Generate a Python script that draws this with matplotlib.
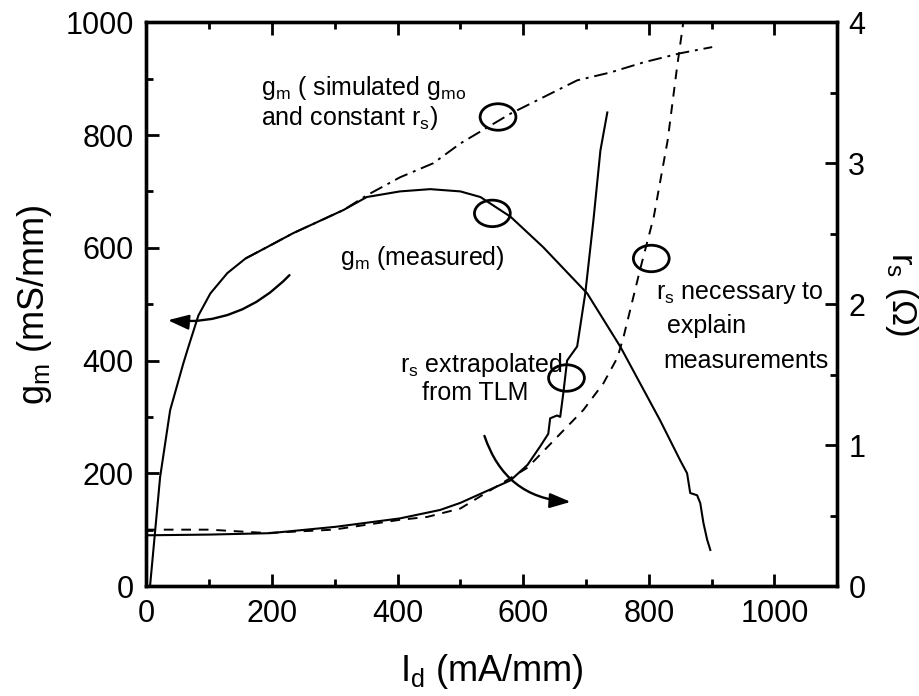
import matplotlib
matplotlib.use("Agg")
import matplotlib.pyplot as plt
from matplotlib.patches import Ellipse, FancyArrowPatch
from matplotlib.ticker import MultipleLocator

plt.rcParams['font.family'] = ['Liberation Sans', 'DejaVu Sans']
plt.rcParams['mathtext.default'] = 'regular'

# measured transconductance vs drain current
gm_meas_id = [6, 22, 38, 59, 67, 83, 102, 129, 158, 192, 234, 314, 351, 404, 452,
              500, 532, 580, 632, 702, 755, 818, 850, 861, 866, 877, 882, 887, 893, 898]
gm_meas = [0, 193, 312, 395, 424, 480, 519, 555, 581, 601, 626, 667, 690, 700, 704,
           700, 690, 655, 601, 519, 424, 294, 223, 200, 165, 161, 147, 112, 82, 64]

# simulated gm with constant rs
gm_sim_id = [158, 192, 234, 314, 351, 404, 457, 500, 580, 686, 739, 792, 850, 901]
gm_sim = [581, 601, 626, 667, 693, 725, 750, 785, 838, 897, 911, 929, 945, 956]

# rs extrapolated from TLM
rs_tlm_id = [0, 100, 197, 301, 404, 468, 500, 580, 607, 627, 640, 643, 654, 659,
             664, 670, 686, 699, 712, 723, 734]
rs_tlm = [0.36, 0.365, 0.375, 0.42, 0.48, 0.54, 0.59, 0.75, 0.86, 0.99, 1.08, 1.19,
          1.21, 1.20, 1.37, 1.60, 1.70, 2.08, 2.60, 3.09, 3.36]

# rs needed to explain the measured gm
rs_need_id = [0, 100, 192, 298, 404, 447, 500, 607, 659, 696, 728, 750, 760, 787,
              808, 830, 845, 855]
rs_need = [0.40, 0.40, 0.376, 0.40, 0.47, 0.49, 0.55, 0.84, 1.08, 1.25, 1.44, 1.62,
           1.77, 2.26, 2.62, 3.16, 3.68, 4.0]

fig = plt.figure(figsize=(9.2, 6.96), dpi=100)
ax = fig.add_axes([0.159, 0.158, 0.751, 0.810])
ax2 = ax.twinx()

ax.plot(gm_meas_id, gm_meas, color='black', lw=1.5)
ax.plot(gm_sim_id, gm_sim, color='black', lw=1.4, linestyle=(0, (7, 3, 1.5, 3)))
ax2.plot(rs_tlm_id, rs_tlm, color='black', lw=1.5)
ax2.plot(rs_need_id, rs_need, color='black', lw=1.4, linestyle=(0, (5, 4)))

ax.set_xlim(0, 1100)
ax.set_ylim(0, 1000)
ax2.set_ylim(0, 4)

ax.xaxis.set_major_locator(MultipleLocator(200))
ax.xaxis.set_minor_locator(MultipleLocator(100))
ax.yaxis.set_major_locator(MultipleLocator(200))
ax.yaxis.set_minor_locator(MultipleLocator(100))
ax2.yaxis.set_major_locator(MultipleLocator(1))
ax2.yaxis.set_minor_locator(MultipleLocator(0.5))

ax.tick_params(which='both', direction='in', top=True, right=False, width=2,
               labelsize=22, pad=9)
ax.tick_params(which='major', length=9)
ax.tick_params(which='minor', length=5)
ax2.tick_params(which='both', direction='in', width=2, labelsize=22, pad=8)
ax2.tick_params(which='major', length=9)
ax2.tick_params(which='minor', length=5)
for a in (ax, ax2):
    for s in a.spines.values():
        s.set_linewidth(2.4)

ax.set_xlabel('I$_d$ (mA/mm)', fontsize=26, labelpad=17)
ax.set_ylabel('g$_m$ (mS/mm)', fontsize=26, labelpad=8)
fig.text(0.980, 0.578, 'r$_s$ (Ω)', fontsize=25, rotation=270,
         ha='center', va='center')

# annotations
fs = 18
ax.text(182, 883, 'g$_m$ ( simulated g$_{mo}$', fontsize=fs, va='center')
ax.text(182, 830, 'and constant r$_s$)', fontsize=fs, va='center')
ax.text(309, 582, 'g$_m$ (measured)', fontsize=fs, va='center')
ax.text(404, 392, 'r$_s$ extrapolated', fontsize=fs, va='center')
ax.text(439, 342, 'from TLM', fontsize=fs, va='center')
ax.text(811, 519, 'r$_s$ necessary to', fontsize=fs, va='center')
ax.text(829, 462, 'explain', fontsize=fs, va='center')
ax.text(823, 400, 'measurements', fontsize=fs, va='center')

# circles marking each curve
for cx, cy in [(560, 832), (551, 661), (804, 581), (669, 369)]:
    ax.add_patch(Ellipse((cx, cy), 57, 47, fill=False, lw=2, color='black'))

# arrows pointing to the relevant axis
ax.add_patch(FancyArrowPatch((231, 555), (30, 472), connectionstyle='arc3,rad=-0.25',
                             arrowstyle='-|>,head_length=0.7,head_width=0.25',
                             mutation_scale=18, lw=1.7, color='black'))
ax.add_patch(FancyArrowPatch((537, 271), (680, 149), connectionstyle='arc3,rad=0.35',
                             arrowstyle='-|>,head_length=0.7,head_width=0.25',
                             mutation_scale=18, lw=1.7, color='black'))

fig.savefig('out.png', dpi=100)
